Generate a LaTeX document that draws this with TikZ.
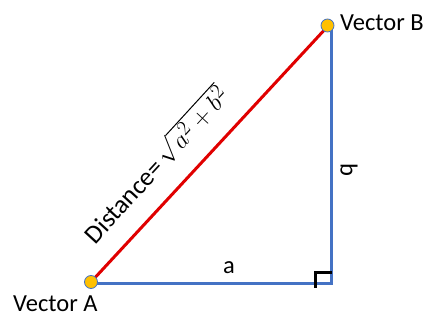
\documentclass[tikz,border=0pt]{standalone}
\usepackage{fontspec}
\setmainfont{Carlito}
\definecolor{edgeblue}{HTML}{4472C4}
\definecolor{edgered}{HTML}{E00000}
\definecolor{dotfill}{HTML}{FFC000}
\begin{document}
\begin{tikzpicture}[x=1pt,y=-1pt,
  lbl/.style={font=\fontsize{24.5}{29}\selectfont, inner sep=0pt},
  dot/.style={circle, minimum size=13pt, inner sep=0pt, fill=dotfill, draw=edgeblue, line width=0.8pt},
  blueline/.style={draw=edgeblue, line width=3pt},
  redline/.style={draw=edgered, line width=3pt},
  rightmark/.style={draw=black, line width=3pt}]
\useasboundingbox (0,0) rectangle (432,320);
\coordinate (C) at (331.5,284);
\coordinate (Ctop) at (331.5,26);
\coordinate (m1) at (315.5,288);
\coordinate (m2) at (315.5,272.5);
\coordinate (m3) at (331.5,272.5);
\draw[blueline, line join=miter] (91,284) -- (C) -- (Ctop);
\draw[redline] (91,282) -- (328,26);
\draw[rightmark, line join=miter] (m1) -- (m2) -- (m3);
\node[dot] (A) at (91,282) {};
\node[dot] (B) at (327.5,25.5) {};
\node[lbl, anchor=west] (lb) at (340,23) {Vector B};
\node[lbl, anchor=west] (la) at (13,304) {Vector A};
\node[lbl] (sa) at (229,268) {a};
\node[lbl, rotate=-90] (sb) at (349,170) {b};
\node[inner sep=0pt, font=\fontsize{26}{30}\selectfont, rotate=47.5] (dist) at (155,164) {Distance=\,{\fontsize{29}{34}\selectfont$\sqrt{a^2+b^2}$}};
\end{tikzpicture}
\end{document}
